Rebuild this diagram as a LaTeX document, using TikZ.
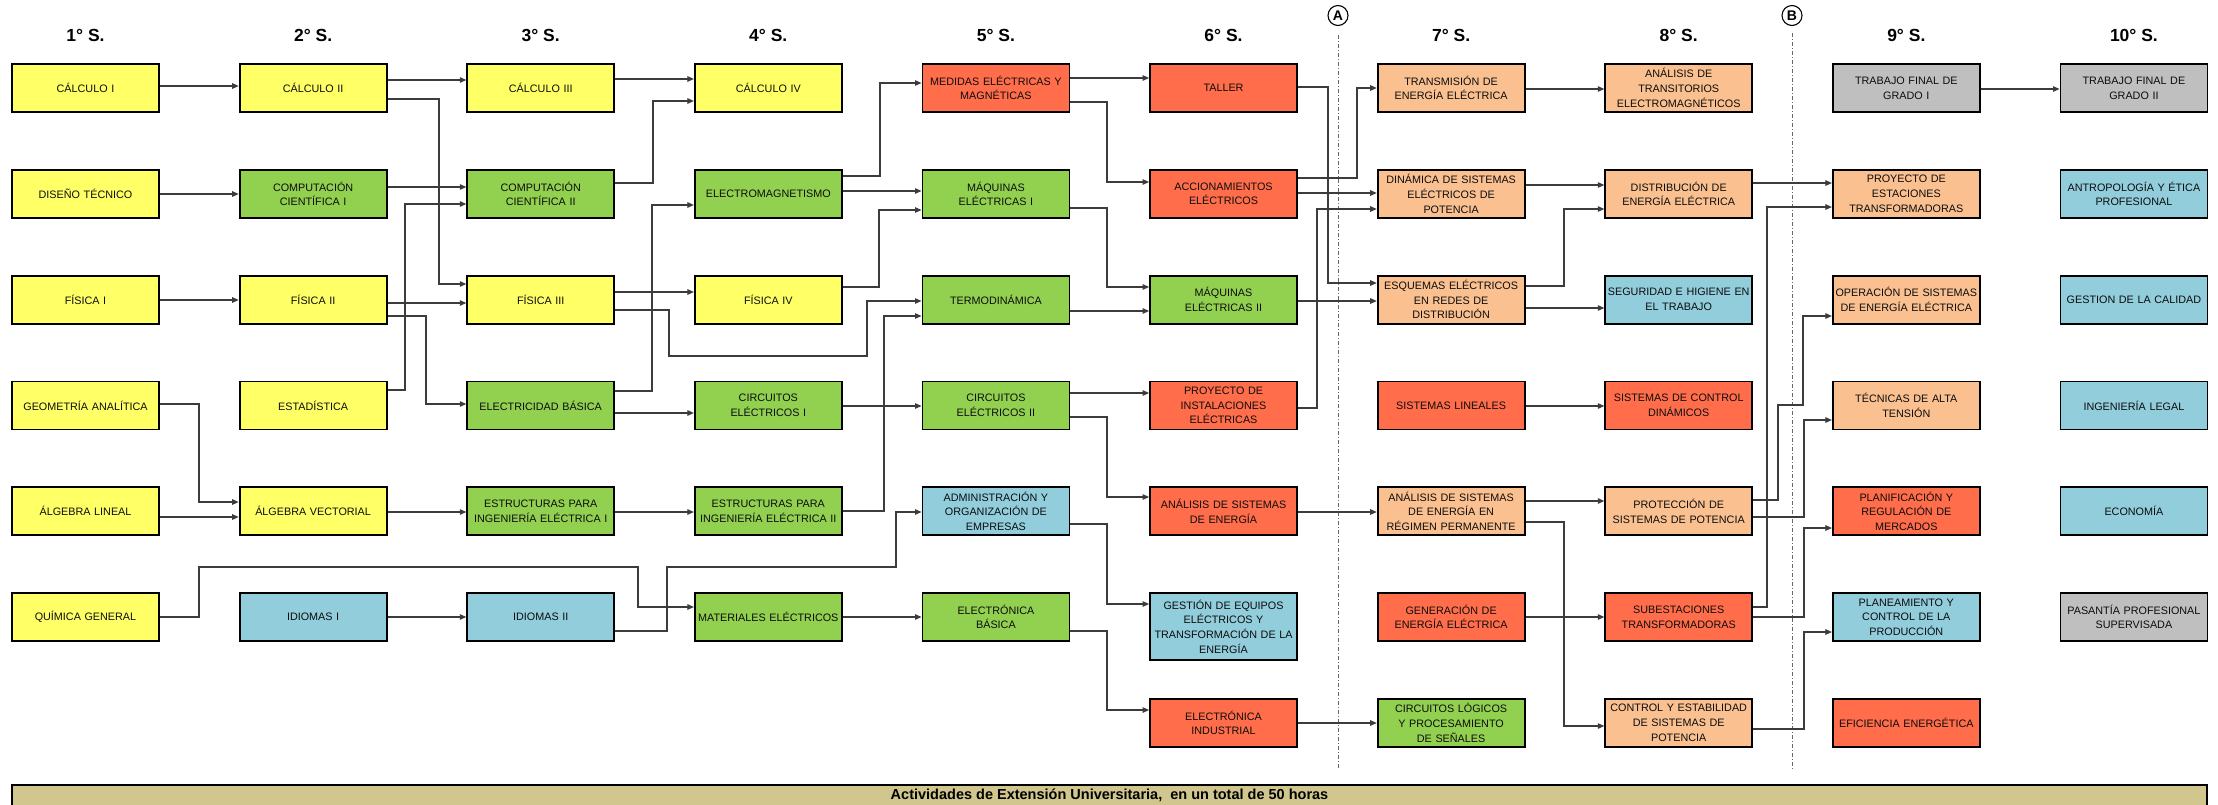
\documentclass[tikz,border=0pt]{standalone}
\usepackage{fontspec}
\setmainfont{Liberation Sans}
\usetikzlibrary{arrows.meta}
\definecolor{cyel}{HTML}{FFFF66}
\definecolor{cgrn}{HTML}{92D050}
\definecolor{cred}{HTML}{FF6D4A}
\definecolor{cpch}{HTML}{FAC090}
\definecolor{cblu}{HTML}{92CDDC}
\definecolor{cgry}{HTML}{BFBFBF}
\definecolor{cbar}{HTML}{D0C68E}
\definecolor{cline}{HTML}{3C3C3C}
\begin{document}
\begin{tikzpicture}[x=1pt,y=-1pt,
  box/.style={draw=black, line width=1.8pt, minimum width=147pt, minimum height=48pt,
    text width=146pt, inner sep=0pt, align=center,
    font=\fontsize{10.8}{14.7}\selectfont, text=black!95},
  yel/.style={box, fill=cyel},
  grn/.style={box, fill=cgrn},
  red/.style={box, fill=cred},
  pch/.style={box, fill=cpch},
  blu/.style={box, fill=cblu},
  gry/.style={box, fill=cgry},
  conn/.style={draw=cline, line width=1.1pt, -{Triangle[length=6.5pt,width=5.5pt]}},
  hdr/.style={font=\fontsize{17.5}{20}\selectfont\bfseries, inner sep=0pt},
  sepline/.style={draw=black!60, line width=0.9pt, dash pattern=on 4pt off 2pt on 1pt off 2pt},
  mark circ/.style={circle, draw=black, line width=1.1pt, minimum size=20pt, inner sep=0pt,
    font=\fontsize{14}{14}\selectfont\bfseries, fill=white},
]
\useasboundingbox (0,0) rectangle (2218,804);
\fill[white] (0,0) rectangle (2218,804);

% headers
\node[hdr] (h1) at (85.5,35.5) {1° S.};
\node[hdr] (h2) at (313.1,35.5) {2° S.};
\node[hdr] (h3) at (540.7,35.5) {3° S.};
\node[hdr] (h4) at (768.3,35.5) {4° S.};
\node[hdr] (h5) at (995.9,35.5) {5° S.};
\node[hdr] (h6) at (1223.5,35.5) {6° S.};
\node[hdr] (h7) at (1451.1,35.5) {7° S.};
\node[hdr] (h8) at (1678.7,35.5) {8° S.};
\node[hdr] (h9) at (1906.3,35.5) {9° S.};
\node[hdr] (h10) at (2133.9,35.5) {10° S.};

% separators
\node[mark circ] (cA) at (1338,15.5) {A};
\node[mark circ] (cB) at (1792,15.5) {B};
\coordinate (Aend) at (1338,770);
\coordinate (Bend) at (1792,770);
\draw[sepline] (cA.south) ++(0,9) -- (Aend);
\draw[sepline] (cB.south) ++(0,7) -- (Bend);

% column 1
\node[yel] (calc1) at (85.5,88) {CÁLCULO I};
\node[yel] (dis) at (85.5,193.8) {DISEÑO TÉCNICO};
\node[yel] (fis1) at (85.5,299.6) {FÍSICA I};
\node[yel] (geo) at (85.5,405.4) {GEOMETRÍA ANALÍTICA};
\node[yel] (alglin) at (85.5,511.2) {ÁLGEBRA LINEAL};
\node[yel] (quim) at (85.5,617) {QUÍMICA GENERAL};
% column 2
\node[yel] (calc2) at (313.1,88) {CÁLCULO II};
\node[grn] (comp1) at (313.1,193.8) {COMPUTACIÓN\\CIENTÍFICA I};
\node[yel] (fis2) at (313.1,299.6) {FÍSICA II};
\node[yel] (est) at (313.1,405.4) {ESTADÍSTICA};
\node[yel] (algvec) at (313.1,511.2) {ÁLGEBRA VECTORIAL};
\node[blu] (idi1) at (313.1,617) {IDIOMAS I};
% column 3
\node[yel] (calc3) at (540.7,88) {CÁLCULO III};
\node[grn] (comp2) at (540.7,193.8) {COMPUTACIÓN\\CIENTÍFICA II};
\node[yel] (fis3) at (540.7,299.6) {FÍSICA III};
\node[grn] (elecb) at (540.7,405.4) {ELECTRICIDAD BÁSICA};
\node[grn] (epie1) at (540.7,511.2) {ESTRUCTURAS PARA\\INGENIERÍA ELÉCTRICA I};
\node[blu] (idi2) at (540.7,617) {IDIOMAS II};
% column 4
\node[yel] (calc4) at (768.3,88) {CÁLCULO IV};
\node[grn] (emag) at (768.3,193.8) {ELECTROMAGNETISMO};
\node[yel] (fis4) at (768.3,299.6) {FÍSICA IV};
\node[grn] (circ1) at (768.3,405.4) {CIRCUITOS\\ELÉCTRICOS I};
\node[grn] (epie2) at (768.3,511.2) {ESTRUCTURAS PARA\\INGENIERÍA ELÉCTRICA II};
\node[grn] (mat) at (768.3,617) {MATERIALES ELÉCTRICOS};
% column 5
\node[red] (med) at (995.9,88) {MEDIDAS ELÉCTRICAS Y\\MAGNÉTICAS};
\node[grn] (maq1) at (995.9,193.8) {MÁQUINAS\\ELÉCTRICAS I};
\node[grn] (termo) at (995.9,299.6) {TERMODINÁMICA};
\node[grn] (circ2) at (995.9,405.4) {CIRCUITOS\\ELÉCTRICOS II};
\node[blu] (admin) at (995.9,511.2) {ADMINISTRACIÓN Y\\ORGANIZACIÓN DE\\EMPRESAS};
\node[grn] (elnb) at (995.9,617) {ELECTRÓNICA\\BÁSICA};
% column 6
\node[red] (taller) at (1223.5,88) {TALLER};
\node[red] (acc) at (1223.5,193.8) {ACCIONAMIENTOS\\ELÉCTRICOS};
\node[grn] (maq2) at (1223.5,299.6) {MÁQUINAS\\ELÉCTRICAS II};
\node[red] (pie) at (1223.5,405.4) {PROYECTO DE\\INSTALACIONES\\ELÉCTRICAS};
\node[red] (ase) at (1223.5,511.2) {ANÁLISIS DE SISTEMAS\\DE ENERGÍA};
\node[blu, minimum height=67pt] (gest) at (1223.5,626.5) {GESTIÓN DE EQUIPOS\\ELÉCTRICOS Y\\TRANSFORMACIÓN DE LA\\ENERGÍA};
\node[red] (elind) at (1223.5,722.8) {ELECTRÓNICA\\INDUSTRIAL};
% column 7
\node[pch] (trans) at (1451.1,88) {TRANSMISIÓN DE\\ENERGÍA ELÉCTRICA};
\node[pch] (din) at (1451.1,193.8) {DINÁMICA DE SISTEMAS\\ELÉCTRICOS DE\\POTENCIA};
\node[pch] (esq) at (1451.1,299.6) {ESQUEMAS ELÉCTRICOS\\EN REDES DE\\DISTRIBUCIÓN};
\node[red] (slin) at (1451.1,405.4) {SISTEMAS LINEALES};
\node[pch] (arp) at (1451.1,511.2) {ANÁLISIS DE SISTEMAS\\DE ENERGÍA EN\\RÉGIMEN PERMANENTE};
\node[red] (gen) at (1451.1,617) {GENERACIÓN DE\\ENERGÍA ELÉCTRICA};
\node[grn] (clp) at (1451.1,722.8) {CIRCUITOS LÓGICOS\\Y PROCESAMIENTO\\DE SEÑALES};
% column 8
\node[pch] (ate) at (1678.7,88) {ANÁLISIS DE\\TRANSITORIOS\\ELECTROMAGNÉTICOS};
\node[pch] (dist) at (1678.7,193.8) {DISTRIBUCIÓN DE\\ENERGÍA ELÉCTRICA};
\node[blu] (seg) at (1678.7,299.6) {SEGURIDAD E HIGIENE EN\\EL TRABAJO};
\node[red] (scd) at (1678.7,405.4) {SISTEMAS DE CONTROL\\DINÁMICOS};
\node[pch] (prot) at (1678.7,511.2) {PROTECCIÓN DE\\SISTEMAS DE POTENCIA};
\node[red] (sub) at (1678.7,617) {SUBESTACIONES\\TRANSFORMADORAS};
\node[pch] (cep) at (1678.7,722.8) {CONTROL Y ESTABILIDAD\\DE SISTEMAS DE\\POTENCIA};
% column 9
\node[gry] (tfg1) at (1906.3,88) {TRABAJO FINAL DE\\GRADO I};
\node[pch] (pet) at (1906.3,193.8) {PROYECTO DE\\ESTACIONES\\TRANSFORMADORAS};
\node[pch] (osee) at (1906.3,299.6) {OPERACIÓN DE SISTEMAS\\DE ENERGÍA ELÉCTRICA};
\node[pch] (tat) at (1906.3,405.4) {TÉCNICAS DE ALTA\\TENSIÓN};
\node[red] (prm) at (1906.3,511.2) {PLANIFICACIÓN Y\\REGULACIÓN DE\\MERCADOS};
\node[blu] (pcp) at (1906.3,617) {PLANEAMIENTO Y\\CONTROL DE LA\\PRODUCCIÓN};
\node[red] (efi) at (1906.3,722.8) {EFICIENCIA ENERGÉTICA};
% column 10
\node[gry] (tfg2) at (2133.9,88) {TRABAJO FINAL DE\\GRADO II};
\node[blu] (antro) at (2133.9,193.8) {ANTROPOLOGÍA Y ÉTICA\\PROFESIONAL};
\node[blu] (gcal) at (2133.9,299.6) {GESTION DE LA CALIDAD};
\node[blu] (ilegal) at (2133.9,405.4) {INGENIERÍA LEGAL};
\node[blu] (eco) at (2133.9,511.2) {ECONOMÍA};
\node[gry] (pps) at (2133.9,617) {PASANTÍA PROFESIONAL\\SUPERVISADA};

% bottom bar
\node[draw=black, line width=1.5pt, fill=cbar, minimum width=2195pt, minimum height=21pt,
  inner sep=0pt, font=\fontsize{14.5}{15}\selectfont\bfseries] (bar) at (1109.5,795.5)
  {Actividades de Extensión Universitaria,\ \ en un total de 50 horas};

% connectors 1 -> 2
\draw[conn] (calc1.east |- 0,86) -- (calc2.west |- 0,86);
\draw[conn] (dis.east |- 0,194) -- (comp1.west |- 0,194);
\draw[conn] (fis1.east |- 0,300) -- (fis2.west |- 0,300);
\draw[conn] (geo.east |- 0,404) -- (199,404) -- (199,502) -- (algvec.west |- 0,502);
\draw[conn] (alglin.east |- 0,517) -- (algvec.west |- 0,517);
\draw[conn] (quim.east |- 0,617) -- (199,617) -- (199,567) -- (638,567) -- (638,607) -- (mat.west |- 0,607);
% 2 -> 3
\draw[conn] (calc2.east |- 0,80) -- (calc3.west |- 0,80);
\draw[conn] (calc2.east |- 0,99) -- (439,99) -- (439,284) -- (fis3.west |- 0,284);
\draw[conn] (comp1.east |- 0,187) -- (comp2.west |- 0,187);
\draw[conn] (est.east |- 0,390) -- (405,390) -- (405,204) -- (comp2.west |- 0,204);
\draw[conn] (fis2.east |- 0,303) -- (fis3.west |- 0,303);
\draw[conn] (fis2.east |- 0,316) -- (426,316) -- (426,404) -- (elecb.west |- 0,404);
\draw[conn] (algvec.east |- 0,512) -- (epie1.west |- 0,512);
\draw[conn] (idi1.east |- 0,617) -- (idi2.west |- 0,617);
% 3 -> 4
\draw[conn] (calc3.east |- 0,79) -- (calc4.west |- 0,79);
\draw[conn] (comp2.east |- 0,183) -- (653,183) -- (653,101) -- (calc4.west |- 0,101);
\draw[conn] (elecb.east |- 0,391) -- (652,391) -- (652,205) -- (emag.west |- 0,205);
\draw[conn] (fis3.east |- 0,292) -- (fis4.west |- 0,292);
\draw[conn] (fis3.east |- 0,310) -- (669,310) -- (669,356) -- (867,356) -- (867,301) -- (termo.west |- 0,301);
\draw[conn] (elecb.east |- 0,413) -- (circ1.west |- 0,413);
\draw[conn] (epie1.east |- 0,512) -- (epie2.west |- 0,512);
\draw[conn] (idi2.east |- 0,631) -- (667,631) -- (667,567) -- (896,567) -- (896,512) -- (admin.west |- 0,512);
\draw[conn] (mat.east |- 0,617) -- (elnb.west |- 0,617);
% 4 -> 5
\draw[conn] (emag.east |- 0,176) -- (880,176) -- (880,83) -- (med.west |- 0,83);
\draw[conn] (emag.east |- 0,191) -- (maq1.west |- 0,191);
\draw[conn] (fis4.east |- 0,287) -- (879,287) -- (879,210) -- (maq1.west |- 0,210);
\draw[conn] (circ1.east |- 0,406) -- (circ2.west |- 0,406);
\draw[conn] (epie2.east |- 0,511) -- (884,511) -- (884,316) -- (termo.west |- 0,316);
% 5 -> 6
\draw[conn] (med.east |- 0,78) -- (taller.west |- 0,78);
\draw[conn] (med.east |- 0,102) -- (1107,102) -- (1107,182) -- (acc.west |- 0,182);
\draw[conn] (maq1.east |- 0,208) -- (1107,208) -- (1107,287) -- (maq2.west |- 0,287);
\draw[conn] (termo.east |- 0,311) -- (maq2.west |- 0,311);
\draw[conn] (circ2.east |- 0,393) -- (pie.west |- 0,393);
\draw[conn] (circ2.east |- 0,417) -- (1107,417) -- (1107,497) -- (ase.west |- 0,497);
\draw[conn] (admin.east |- 0,524) -- (1107,524) -- (1107,604) -- (gest.west |- 0,604);
\draw[conn] (elnb.east |- 0,631) -- (1107,631) -- (1107,710) -- (elind.west |- 0,710);
% 6 -> 7
\draw[conn] (taller.east |- 0,87) -- (1328,87) -- (1328,283) -- (esq.west |- 0,283);
\draw[conn] (acc.east |- 0,178) -- (1357,178) -- (1357,88) -- (trans.west |- 0,88);
\draw[conn] (acc.east |- 0,193) -- (din.west |- 0,193);
\draw[conn] (pie.east |- 0,408) -- (1317,408) -- (1317,209) -- (din.west |- 0,209);
\draw[conn] (maq2.east |- 0,301) -- (esq.west |- 0,301);
\draw[conn] (ase.east |- 0,512) -- (arp.west |- 0,512);
\draw[conn] (elind.east |- 0,723) -- (clp.west |- 0,723);
% 7 -> 8
\draw[conn] (trans.east |- 0,89) -- (ate.west |- 0,89);
\draw[conn] (din.east |- 0,185) -- (dist.west |- 0,185);
\draw[conn] (esq.east |- 0,286) -- (1564,286) -- (1564,209) -- (dist.west |- 0,209);
\draw[conn] (esq.east |- 0,308) -- (seg.west |- 0,308);
\draw[conn] (slin.east |- 0,406) -- (scd.west |- 0,406);
\draw[conn] (arp.east |- 0,501) -- (prot.west |- 0,501);
\draw[conn] (arp.east |- 0,522) -- (1564,522) -- (1564,726) -- (cep.west |- 0,726);
\draw[conn] (gen.east |- 0,617) -- (sub.west |- 0,617);
% 8 -> 9
\draw[conn] (dist.east |- 0,183) -- (pet.west |- 0,183);
\draw[conn] (sub.east |- 0,607) -- (1767,607) -- (1767,207) -- (pet.west |- 0,207);
\draw[conn] (prot.east |- 0,500) -- (1778,500) -- (1778,405) -- (1803,405) -- (1803,316) -- (osee.west |- 0,316);
\draw[conn] (prot.east |- 0,517) -- (1804,517) -- (1804,420) -- (tat.west |- 0,420);
\draw[conn] (sub.east |- 0,617) -- (1804,617) -- (1804,528) -- (prm.west |- 0,528);
\draw[conn] (cep.east |- 0,729) -- (1804,729) -- (1804,632) -- (pcp.west |- 0,632);
% 9 -> 10
\draw[conn] (tfg1.east |- 0,89) -- (tfg2.west |- 0,89);
\end{tikzpicture}
\end{document}
